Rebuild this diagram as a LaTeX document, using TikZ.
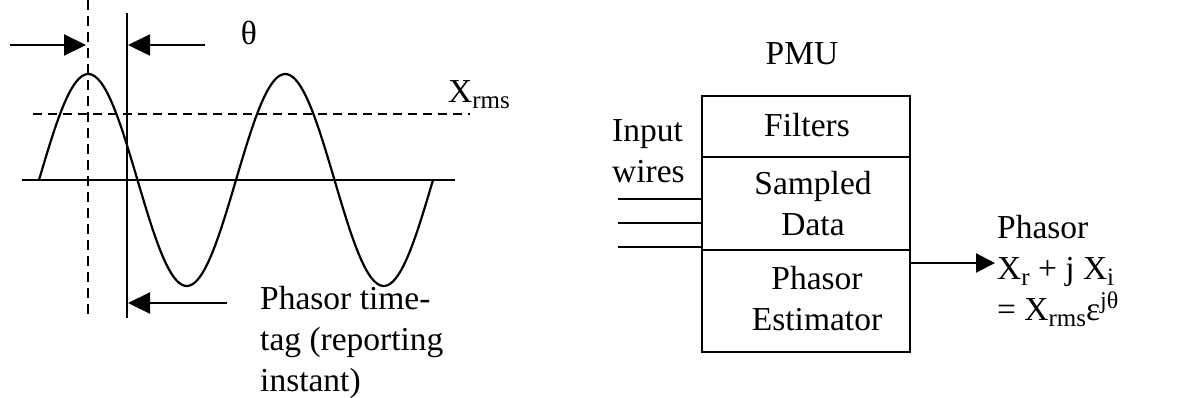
\documentclass[tikz,border=0pt]{standalone}
\usepackage{fontspec}
\setmainfont{Liberation Serif}
\usetikzlibrary{arrows.meta}
\newcommand\mysub[1]{\raisebox{-6pt}{\fontsize{25}{25}\selectfont #1}}
\newcommand\mysup[1]{\raisebox{12pt}{\fontsize{24}{24}\selectfont #1}}
\begin{document}
\begin{tikzpicture}[x=1pt,y=-1pt,
  line/.style={line width=2.2pt},
  txt/.style={font=\fontsize{33.5}{41}\selectfont, inner sep=0pt},
  blk/.style={draw, line width=2.8pt, minimum width=208pt, inner sep=0pt},
  tipA/.style={-{Triangle[length=22pt,width=21pt]}},
  tipB/.style={-{Triangle[length=19pt,width=19pt]}},
]
\fill[white] (0,0) rectangle (1189,397);
\useasboundingbox (0,0) rectangle (1189,397);
% ---------- left: waveform ----------
\coordinate (dtop) at (88,0);
\coordinate (dbot) at (88,320);
\draw[line, line width=2.6pt, dash pattern=on 10pt off 6pt] (dtop) -- (dbot);
\coordinate (stop) at (127,13);
\coordinate (sbot) at (127,318);
\draw[line] (stop) -- (sbot);
\coordinate (axL) at (22,180);
\coordinate (axR) at (455,180);
\draw[line] (axL) -- (axR);
\coordinate (rmsL) at (33,114);
\coordinate (rmsR) at (470,114);
\draw[line, dash pattern=on 9pt off 6pt] (rmsL) -- (rmsR);
\draw[line] plot[domain=39:433, samples=150, smooth] (\x,{180-106*sin((\x-39)*1.827411)});
% arrows
\coordinate (a1s) at (10,45);
\coordinate (a1e) at (86,45);
\draw[line, tipA] (a1s) -- (a1e);
\coordinate (a2s) at (205,45);
\coordinate (a2e) at (128,45);
\draw[line, tipA] (a2s) -- (a2e);
\coordinate (a3s) at (227,303);
\coordinate (a3e) at (128,303);
\draw[line, tipA] (a3s) -- (a3e);
% labels
\node[txt] (theta) at (249,33) {θ};
\node[txt, anchor=base west] (xrms) at (448,102) {X\mysub{rms}};
\node[txt, anchor=north west, align=left] (tag) at (260,286) {Phasor time-\\tag (reporting\\instant)};
% ---------- right: PMU ----------
\node[txt] (pmu) at (802,53.5) {PMU};
\node[blk, minimum height=61pt] (filt) at (806,126.5) {};
\node[blk, minimum height=93pt] (samp) at (806,203.5) {};
\node[blk, minimum height=102pt] (est) at (806,301) {};
\node[txt] (ftxt) at (807,125.5) {Filters};
\node[txt, align=center] (stxt) at (813,203.9) {Sampled\\Data};
\node[txt, align=center] (etxt) at (817,298.9) {Phasor\\Estimator};
\node[txt, anchor=north west, align=left] (inp) at (612,119.5) {Input\\wires};
\coordinate (w1) at (618,199);
\coordinate (w2) at (618,223);
\coordinate (w3) at (618,247);
\draw[line] (w1) -- (w1 -| samp.west);
\draw[line] (w2) -- (w2 -| samp.west);
\draw[line] (w3) -- (w3 -| samp.west);
\coordinate (otip) at (995,263);
\draw[line, tipB] (otip -| est.east) -- (otip);
\node[txt, anchor=north west, align=left] (out) at (997,215) {Phasor\\X\mysub{r} + j X\mysub{i}\\= X\mysub{rms}ε\mysup{jθ}};
\end{tikzpicture}
\end{document}
